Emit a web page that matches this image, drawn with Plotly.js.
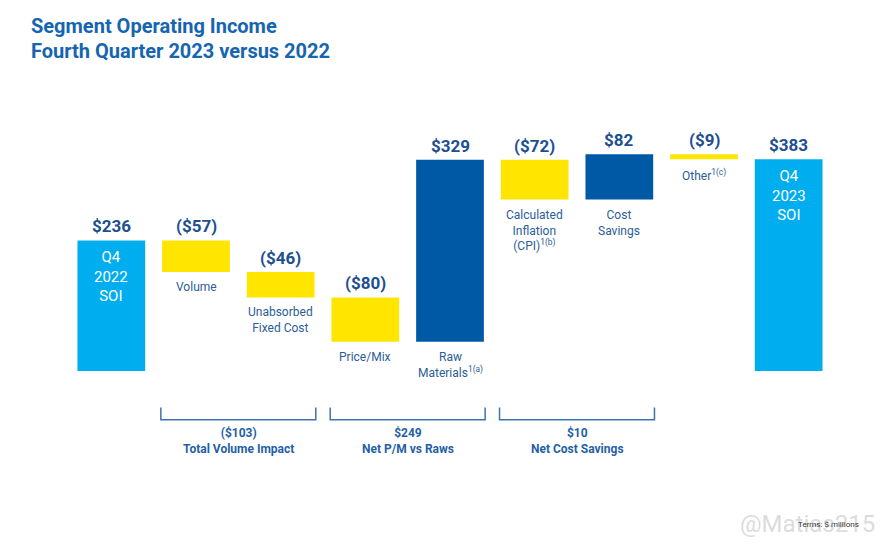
<!DOCTYPE html>
<html>
<head>
<meta charset="utf-8">
<script src="https://cdn.plot.ly/plotly-3.0.1.min.js"></script>
<style>html,body{margin:0;padding:0;background:#fff;}#chart{width:888px;height:544px;}</style>
</head>
<body>
<div id="chart"></div>
<script>
// ---- data ----
const categories = ['Q4 2022 SOI','Volume','Unabsorbed Fixed Cost','Price/Mix','Raw Materials','Calculated Inflation (CPI)','Cost Savings','Other','Q4 2023 SOI'];
const values = [236, -57, -46, -80, 329, -72, 82, -9, 383];
const measures = ['absolute','relative','relative','relative','relative','relative','relative','relative','total'];
const valueLabels = ['$236','($57)','($46)','($80)','$329','($72)','$82','($9)','$383'];
const barLabels = ['Q4<br>2022<br>SOI','Volume','Unabsorbed<br>Fixed Cost','Price/Mix','Raw<br>Materials<sup>1(a)</sup>','Calculated<br>Inflation<br>(CPI)<sup>1(b)</sup>','Cost<br>Savings','Other<sup>1(c)</sup>','Q4<br>2023<br>SOI'];
const groupLabels = ['($103)<br>Total Volume Impact','$249<br>Net P/M vs Raws','$10<br>Net Cost Savings'];
const groupStart = [1, 3, 5];
const groupEnd = [2, 4, 6];
const titleLines = ['Segment Operating Income', 'Fourth Quarter 2023 versus 2022'];

// ---- styles ----
const FONT = 'Roboto, Inter, "DejaVu Sans", sans-serif';
const NAVY = '#1d4f91';
const LABEL = '#2b5d99';
const GROUPC = '#1f5fa8';
const BRACKET = '#3f73ad';
const HALF = 0.415;

// running totals for label placement
let run = 0;
const tops = [], bottoms = [];
values.forEach((v, i) => {
  let prev;
  if (measures[i] === 'absolute') { prev = 0; run = v; }
  else if (measures[i] === 'total') { prev = 0; }
  else { prev = run; run += v; }
  tops.push(Math.max(prev, run));
  bottoms.push(Math.min(prev, run));
});

const annotations = [];
categories.forEach((c, i) => {
  annotations.push({
    x: c, y: tops[i], xref: 'x', yref: 'y', text: '<b>' + valueLabels[i] + '</b>',
    showarrow: false, yanchor: 'bottom', yshift: 2,
    font: {family: FONT, size: 17, color: NAVY}
  });
  if (measures[i] === 'relative') {
    annotations.push({
      x: c, y: bottoms[i], xref: 'x', yref: 'y', text: barLabels[i],
      showarrow: false, yanchor: 'top', yshift: -6,
      font: {family: FONT, size: 12, color: LABEL}
    });
  } else {
    annotations.push({
      x: c, y: tops[i], xref: 'x', yref: 'y', text: barLabels[i],
      showarrow: false, yanchor: 'top', yshift: -6,
      font: {family: FONT, size: 15, color: '#ffffff'}
    });
  }
});

const shapes = [];
groupLabels.forEach((g, k) => {
  const x0 = groupStart[k] - HALF, x1 = groupEnd[k] + HALF;
  shapes.push({
    type: 'path', xref: 'x', yref: 'y',
    path: `M ${x0} -66 L ${x0} -88 L ${x1} -88 L ${x1} -66`,
    line: {color: BRACKET, width: 1.5}
  });
  annotations.push({
    x: (groupStart[k] + groupEnd[k]) / 2, y: -95, xref: 'x', yref: 'y',
    text: '<b>' + g + '</b>', showarrow: false, yanchor: 'top',
    font: {family: FONT, size: 12, color: GROUPC}
  });
});

// title lines (paper coords above plot area)
titleLines.forEach((t, k) => {
  annotations.push({
    x: -0.0525, y: k === 0 ? 1.2 : 1.132, xref: 'paper', yref: 'paper',
    xanchor: 'left', yanchor: 'middle', text: '<b>' + t + '</b>', showarrow: false,
    font: {family: FONT, size: 20, color: '#1565b0'}
  });
});

annotations.push({
  x: 1.06, y: -0.146, xref: 'paper', yref: 'paper', xanchor: 'right', yanchor: 'middle',
  text: '@Matias215', showarrow: false,
  font: {family: FONT, size: 24, color: 'rgba(190,190,190,0.55)'}
});
annotations.push({
  x: 1.04, y: -0.146, xref: 'paper', yref: 'paper', xanchor: 'right', yanchor: 'middle',
  text: 'Terms: $ millions', showarrow: false,
  font: {family: FONT, size: 8, color: '#333333'}
});

const trace = {
  type: 'waterfall',
  x: categories,
  y: values,
  measure: measures,
  increasing: {marker: {color: '#0059a4'}},
  decreasing: {marker: {color: '#ffe500'}},
  totals: {marker: {color: '#00aeef'}},
  connector: {visible: false},
  textinfo: 'none',
  hoverinfo: 'x+y'
};

const layout = {
  width: 888, height: 544,
  margin: {l: 69, r: 57, t: 100, b: 74},
  paper_bgcolor: '#ffffff', plot_bgcolor: '#ffffff',
  showlegend: false,
  bargap: 0.17,
  xaxis: {visible: false, range: [-0.5, 8.5], type: 'category'},
  yaxis: {visible: false, range: [-179, 490], showgrid: false, zeroline: false},
  shapes: shapes,
  annotations: annotations
};

Plotly.newPlot('chart', [trace], layout, {displayModeBar: false, staticPlot: true});
</script>
</body>
</html>
